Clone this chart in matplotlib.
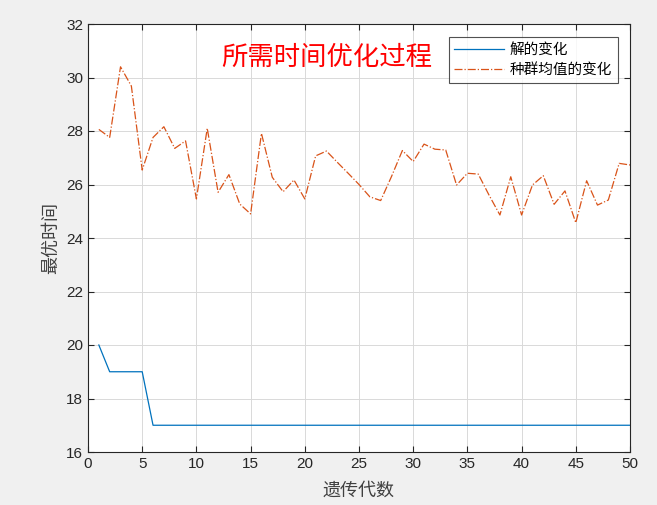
import numpy as np
import matplotlib
matplotlib.use("Agg")
import matplotlib.pyplot as plt

plt.rcParams['font.family'] = ['Noto Sans CJK SC', 'DejaVu Sans']

# 数据
gen = np.arange(1, 51)
best = [20, 19, 19, 19, 19] + [17] * 45
mean_pop = [28.06, 27.76, 30.40, 29.68, 26.54, 27.76, 28.16, 27.35, 27.63, 25.46,
            28.10, 25.71, 26.37, 25.27, 24.90, 27.91, 26.27, 25.73, 26.17, 25.46,
            27.07, 27.25, 26.83, 26.42, 26.00, 25.54, 25.40, 26.30, 27.27, 26.86,
            27.51, 27.32, 27.29, 25.98, 26.42, 26.39, 25.60, 24.86, 26.29, 24.86,
            25.98, 26.33, 25.26, 25.76, 24.57, 26.14, 25.23, 25.42, 26.79, 26.73]

fig = plt.figure(figsize=(6.57, 5.05), dpi=100, facecolor='#f0f0f0')
ax = fig.add_axes([88 / 657, 1 - 452 / 505, 542 / 657, 428 / 505])
ax.set_facecolor('white')

ax.plot(gen, best, '-', color='#0072BD', lw=0.9, label='解的变化')
ax.plot(gen, mean_pop, '-.', color='#D95319', lw=0.9, label='种群均值的变化')

ax.set_xlim(0, 50)
ax.set_ylim(16, 32)
ax.set_xticks(np.arange(0, 51, 5))
ax.set_yticks(np.arange(16, 33, 2))
ax.grid(True, color='#d9d9d9', lw=0.7)
ax.set_axisbelow(True)
ax.tick_params(direction='in', top=True, right=True, labelsize=11, colors='#262626',
               length=4, width=0.8)
for lab in ax.get_xticklabels() + ax.get_yticklabels():
    lab.set_family(['Arial', 'Liberation Sans', 'DejaVu Sans'])
for s in ax.spines.values():
    s.set_color('#262626')
    s.set_linewidth(0.8)

ax.set_xlabel('遗传代数', fontsize=13, color='#404040', labelpad=8)
ax.set_ylabel('最优时间', fontsize=13, color='#404040', labelpad=4)

ax.text(0.245, 0.922, '所需时间优化过程', transform=ax.transAxes, color='#ff0000',
        fontsize=19, va='center', ha='left')

leg = ax.legend(loc='upper right', bbox_to_anchor=(0.978, 0.969), fontsize=10.5,
                frameon=True, fancybox=False, borderpad=0.4, labelspacing=0.4,
                handlelength=3.4, handletextpad=0.4, borderaxespad=0)
leg.get_frame().set_edgecolor('#262626')
leg.get_frame().set_linewidth(0.8)

fig.savefig('out.png', dpi=100, facecolor=fig.get_facecolor())
